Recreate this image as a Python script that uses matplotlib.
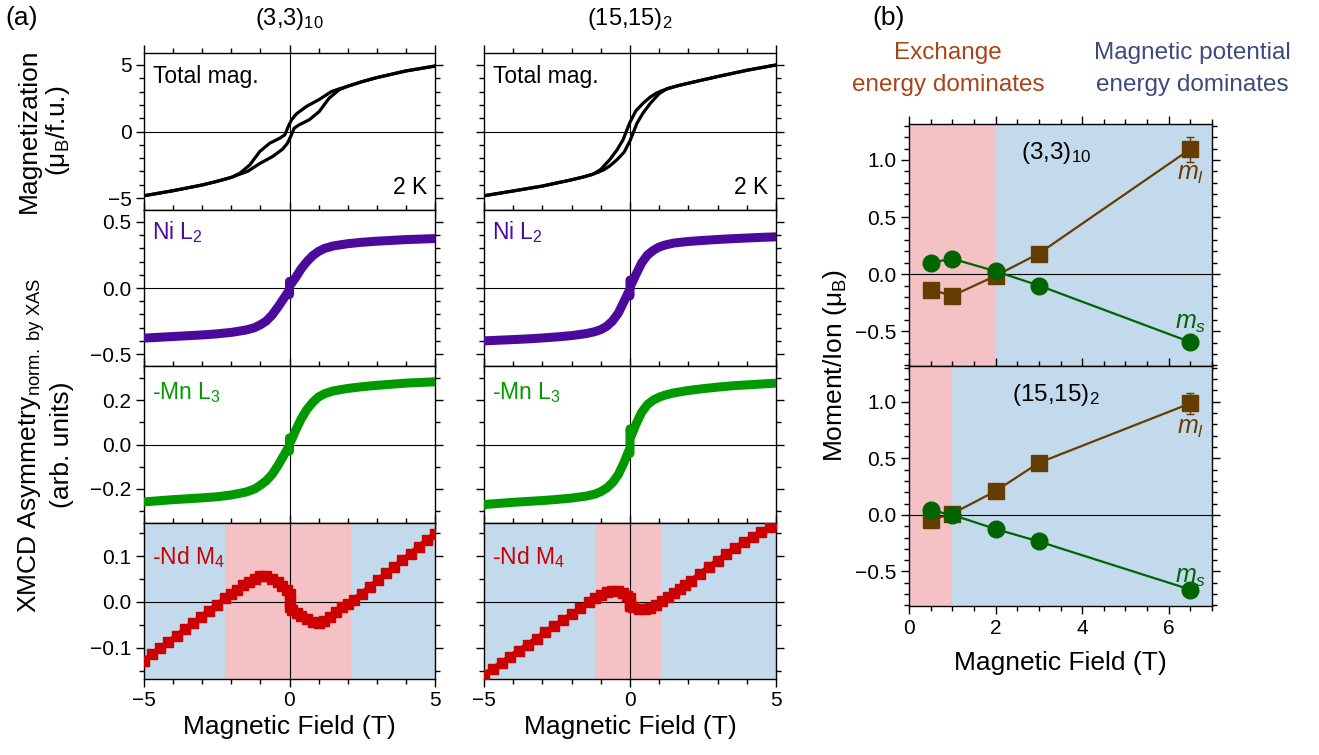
import matplotlib
matplotlib.use("Agg")
import matplotlib.pyplot as plt
from matplotlib.ticker import MultipleLocator

plt.rcParams["font.family"] = ["Liberation Sans", "DejaVu Sans"]
plt.rcParams["mathtext.fontset"] = "custom"
plt.rcParams["mathtext.rm"] = "Liberation Sans"
plt.rcParams["mathtext.it"] = "Liberation Sans:italic"
plt.rcParams["mathtext.bf"] = "Liberation Sans:bold"

# ------------------------------------------------------------------ data
sample_titles = ["(3,3)$_{10}$", "(15,15)$_2$"]

# Total magnetization (muB/f.u.) at 2 K, sweep up / sweep down branches
mag1_inc_x = [-5, -4, -3, -2.5, -2.0, -1.7, -1.44, -1.04, -0.58, -0.24, -0.07, 0.05, 0.16, 0.33, 0.68,
              1.02, 1.36, 1.7, 2.0, 2.5, 3.0, 4.0, 5.0]
mag1_inc_y = [-4.83, -4.45, -4.02, -3.75, -3.45, -3.2, -3.0, -2.43, -1.88, -1.33, -0.88, -0.33, 0.25, 0.5,
              0.88, 1.5, 2.5, 3.13, 3.4, 3.75, 4.05, 4.55, 4.92]
mag1_dec_x = [-5, -4, -3, -2.5, -2.0, -1.7, -1.36, -1.02, -0.68, -0.33, -0.16, -0.05, 0.07, 0.24, 0.58,
              1.04, 1.44, 1.7, 2.0, 2.5, 3.0, 4.0, 5.0]
mag1_dec_y = [-4.83, -4.45, -4.02, -3.75, -3.45, -3.13, -2.5, -1.5, -0.88, -0.5, -0.25, 0.33, 0.88, 1.33,
              1.88, 2.43, 3.0, 3.2, 3.4, 3.75, 4.05, 4.55, 4.92]

mag2_inc_x = [-5, -4, -3, -2, -1.6, -1.3, -1.1, -0.9, -0.7, -0.45, -0.2, 0.0, 0.24, 0.45, 0.7, 1.0,
              1.27, 1.6, 2, 3, 4, 5]
mag2_inc_y = [-4.83, -4.47, -4.1, -3.63, -3.42, -3.22, -3.07, -2.88, -2.6, -2.13, -1.55, -0.7, 0.63, 1.4,
              2.13, 2.85, 3.22, 3.42, 3.63, 4.13, 4.6, 5.0]
mag2_dec_x = [-5, -4, -3, -2, -1.6, -1.27, -1.0, -0.7, -0.45, -0.24, 0.0, 0.2, 0.45, 0.7, 0.9, 1.1,
              1.3, 1.6, 2, 3, 4, 5]
mag2_dec_y = [-4.83, -4.47, -4.1, -3.63, -3.42, -3.22, -2.85, -2.13, -1.4, -0.63, 0.7, 1.55, 2.13, 2.6,
              2.88, 3.07, 3.22, 3.42, 3.63, 4.13, 4.6, 5.0]

# XMCD asymmetry, Ni L2 and -Mn L3
xmcd_field = [-5, -4.5, -4, -3.5, -3, -2.5, -2, -1.5, -1.2, -1.0, -0.8, -0.6, -0.4, -0.2, -0.05, 0, 0,
              0.05, 0.2, 0.4, 0.6, 0.8, 1.0, 1.2, 1.5, 2, 2.5, 3, 3.5, 4, 4.5, 5]
ni1_y = [-0.379, -0.373, -0.367, -0.361, -0.355, -0.347, -0.336, -0.318, -0.3, -0.278, -0.25, -0.205,
         -0.145, -0.08, -0.03, -0.05, 0.05, 0.03, 0.075, 0.145, 0.2, 0.245, 0.277, 0.299, 0.318, 0.335,
         0.346, 0.354, 0.36, 0.366, 0.37, 0.374]
mn1_y = [-0.258, -0.253, -0.248, -0.244, -0.240, -0.235, -0.227, -0.214, -0.200, -0.183, -0.163, -0.135,
         -0.095, -0.05, -0.015, -0.03, 0.03, 0.015, 0.06, 0.115, 0.158, 0.19, 0.214, 0.228, 0.241, 0.252,
         0.260, 0.266, 0.271, 0.276, 0.279, 0.282]
ni2_y = [-0.40, -0.395, -0.39, -0.385, -0.378, -0.37, -0.36, -0.345, -0.33, -0.315, -0.29, -0.25,
         -0.19, -0.1, -0.03, -0.06, 0.06, 0.03, 0.1, 0.19, 0.25, 0.285, 0.31, 0.325, 0.34, 0.352,
         0.36, 0.367, 0.373, 0.378, 0.383, 0.387]
mn2_y = [-0.27, -0.265, -0.26, -0.256, -0.252, -0.247, -0.241, -0.232, -0.223, -0.212, -0.196, -0.172,
         -0.135, -0.08, -0.03, -0.04, 0.07, 0.04, 0.09, 0.145, 0.18, 0.2, 0.213, 0.222, 0.232, 0.243,
         0.251, 0.258, 0.264, 0.268, 0.272, 0.276]

# -Nd M4
nd1_x = [-5.0, -4.72, -4.44, -4.16, -3.88, -3.6, -3.32, -3.04, -2.76, -2.48, -2.2,
         -2.0, -1.8, -1.6, -1.4, -1.2, -1.0, -0.8, -0.6, -0.4, -0.25, -0.1, 0.0, 0.0, 0.0,
         0.1, 0.25, 0.4, 0.6, 0.8, 1.0, 1.2, 1.4, 1.6, 1.8, 2.0,
         2.2, 2.48, 2.76, 3.04, 3.32, 3.6, 3.88, 4.16, 4.44, 4.72, 5.0]
nd1_y = [-0.128, -0.114, -0.101, -0.087, -0.074, -0.060, -0.046, -0.033, -0.019, -0.006, 0.008,
         0.018, 0.027, 0.036, 0.044, 0.051, 0.056, 0.056, 0.051, 0.043, 0.034, 0.025, 0.018, 0.0, -0.012,
         -0.018, -0.024, -0.030, -0.038, -0.044, -0.046, -0.041, -0.032, -0.022, -0.012, -0.004,
         0.004, 0.018, 0.033, 0.047, 0.062, 0.076, 0.091, 0.105, 0.120, 0.134, 0.149]
nd2_x = [-5.0, -4.7, -4.4, -4.1, -3.8, -3.5, -3.2, -2.9, -2.6, -2.3, -2.0, -1.7, -1.4,
         -1.2, -1.0, -0.8, -0.6, -0.4, -0.25, -0.1, 0.0, 0.0, 0.0, 0.1, 0.3, 0.5, 0.7, 0.9,
         1.1, 1.3, 1.5, 1.7, 1.9,
         2.1, 2.4, 2.7, 3.0, 3.3, 3.6, 3.9, 4.2, 4.5, 4.8, 5.0]
nd2_y = [-0.159, -0.146, -0.133, -0.119, -0.106, -0.093, -0.080, -0.066, -0.053, -0.040, -0.027, -0.014, -0.001,
         0.008, 0.015, 0.021, 0.024, 0.024, 0.019, 0.012, 0.008, -0.002, -0.008, -0.011, -0.015, -0.016, -0.013, -0.007,
         0.001, 0.010, 0.019, 0.028, 0.037,
         0.046, 0.061, 0.076, 0.090, 0.104, 0.118, 0.130, 0.142, 0.153, 0.163, 0.169]
nd1_exchange = [-2.2, 2.1]
nd2_exchange = [-1.2, 1.1]

# (b) moments per ion
b_field = [0.5, 1, 2, 3, 6.5]
ml_33 = [-0.135, -0.19, -0.015, 0.18, 1.095]
ms_33 = [0.10, 0.135, 0.025, -0.10, -0.595]
ml_err_33 = [0, 0, 0, 0, 0.11]
ml_1515 = [-0.045, 0.01, 0.21, 0.46, 0.985]
ms_1515 = [0.04, 0.0, -0.125, -0.235, -0.66]
ml_err_1515 = [0, 0, 0, 0, 0.095]
b_exchange_limit = [2.0, 1.0]

# ------------------------------------------------------------------ style
PINK = "#F4C2C4"
BLUE = "#C3D9EC"
C_NI = "#4B0A9C"
C_MN = "#009A00"
C_ND = "#CC0000"
C_MS = "#006400"
C_ML = "#663D00"
C_EXCH = "#A8441A"
C_MAG = "#3C4A7E"

W, H = 1319, 755
fig = plt.figure(figsize=(W / 100, H / 100), dpi=100)


def px_axes(x0, x1, y0, y1):
    return fig.add_axes([x0 / W, 1 - y1 / H, (x1 - x0) / W, (y1 - y0) / H])


def style(ax, xmaj, xmin, ymaj, ymin, xl=True, yl=True):
    ax.xaxis.set_major_locator(MultipleLocator(xmaj))
    ax.xaxis.set_minor_locator(MultipleLocator(xmin))
    ax.yaxis.set_major_locator(MultipleLocator(ymaj))
    ax.yaxis.set_minor_locator(MultipleLocator(ymin))
    ax.tick_params(which="both", direction="out", top=True, right=True, labelsize=15, width=1,
                   labelbottom=xl, labelleft=yl)
    ax.tick_params(which="major", length=6, pad=3)
    ax.tick_params(which="minor", length=3.5)
    for s in ax.spines.values():
        s.set_linewidth(1)


col_x = [(144, 435), (484, 776)]
row_y = [(53, 210), (210, 366), (366, 523), (523, 679)]
ylims = [(-5.9, 5.9), (-0.59, 0.59), (-0.353, 0.353), (-0.168, 0.172)]
yticks = [(5, 1), (0.5, 0.1), (0.2, 0.1), (0.1, 0.05)]

mag_data = [(mag1_inc_x, mag1_inc_y, mag1_dec_x, mag1_dec_y),
            (mag2_inc_x, mag2_inc_y, mag2_dec_x, mag2_dec_y)]
ni_data = [ni1_y, ni2_y]
mn_data = [mn1_y, mn2_y]
nd_data = [(nd1_x, nd1_y, nd1_exchange), (nd2_x, nd2_y, nd2_exchange)]

for c in range(2):
    x0, x1 = col_x[c]
    axs = []
    for r in range(4):
        y0, y1 = row_y[r]
        ax = px_axes(x0, x1, y0, y1)
        ax.set_xlim(-5, 5)
        ax.set_ylim(*ylims[r])
        style(ax, 5, 1, yticks[r][0], yticks[r][1], xl=(r == 3), yl=(c == 0))
        ax.axhline(0, color="k", lw=0.8, zorder=2)
        ax.axvline(0, color="k", lw=0.8, zorder=2)
        axs.append(ax)

    # total magnetization
    ix, iy, dx, dy = mag_data[c]
    axs[0].plot(ix, iy, color="k", lw=2.3, zorder=3, solid_joinstyle="round")
    axs[0].plot(dx, dy, color="k", lw=2.3, zorder=3, solid_joinstyle="round")
    axs[0].text(0.031, 0.853, "Total mag.", transform=axs[0].transAxes, fontsize=16.5, va="center", ha="left")
    axs[0].text(0.973, 0.146, "2 K", transform=axs[0].transAxes, fontsize=16.5, va="center", ha="right")
    axs[0].set_title(sample_titles[c], fontsize=17, pad=20)

    # Ni
    axs[1].plot(xmcd_field, ni_data[c], color=C_NI, lw=6.5, solid_joinstyle="round", zorder=3)
    axs[1].text(0.027, 0.86, "Ni L$_2$", transform=axs[1].transAxes, fontsize=16.5, color=C_NI,
                va="center", ha="left")
    # Mn
    axs[2].plot(xmcd_field, mn_data[c], color=C_MN, lw=6.5, solid_joinstyle="round", zorder=3)
    axs[2].text(0.027, 0.834, "-Mn L$_3$", transform=axs[2].transAxes, fontsize=16.5, color=C_MN,
                va="center", ha="left")
    # Nd
    nx, ny, ex = nd_data[c]
    axs[3].axvspan(-5, ex[0], color=BLUE, lw=0, zorder=0)
    axs[3].axvspan(ex[0], ex[1], color=PINK, lw=0, zorder=0)
    axs[3].axvspan(ex[1], 5, color=BLUE, lw=0, zorder=0)
    axs[3].plot(nx, ny, color=C_ND, lw=4, marker="s", ms=6.5, zorder=3)
    axs[3].text(0.027, 0.78, "-Nd M$_4$", transform=axs[3].transAxes, fontsize=16.5, color=C_ND,
                va="center", ha="left")
    axs[3].set_xlabel("Magnetic Field (T)", fontsize=19, labelpad=3)

fig.text(44 / W, 1 - 131 / H, "Magnetization\n(\u03bc$_\\mathrm{B}$/f.u.)", rotation=90, ha="center",
         va="center", multialignment="center", fontsize=19, linespacing=1.15)
fig.text(45 / W, 1 - 445 / H, "XMCD Asymmetry$_\\mathrm{norm.\\ by\\ XAS}$\n(arb. units)", rotation=90,
         ha="center", va="center", multialignment="center", fontsize=19, linespacing=1.15)
fig.text(22 / W, 1 - 18 / H, "(a)", fontsize=19, ha="center", va="center")
fig.text(889 / W, 1 - 18 / H, "(b)", fontsize=19, ha="center", va="center")

# ------------------------------------------------------------------ panel (b)
b_sets = [(ml_33, ml_err_33, ms_33, sample_titles[0], (124, 366), 0.88, -0.43),
          (ml_1515, ml_err_1515, ms_1515, sample_titles[1], (366, 606), 0.77, -0.55)]
for i, (ml, mle, ms, title, (y0, y1), ml_lab, ms_lab) in enumerate(b_sets):
    ax = px_axes(909, 1212, y0, y1)
    ax.set_xlim(0, 7)
    ax.set_ylim(-0.805, 1.315)
    style(ax, 2, 0.5, 0.5, 0.1, xl=(i == 1), yl=True)
    ax.axvspan(0, b_exchange_limit[i], color=PINK, lw=0, zorder=0)
    ax.axvspan(b_exchange_limit[i], 7, color=BLUE, lw=0, zorder=0)
    ax.axhline(0, color="k", lw=0.8, zorder=1)
    ax.errorbar(b_field, ml, yerr=mle, color=C_ML, lw=1.6, marker="s", ms=11, capsize=3,
                elinewidth=1, zorder=3)
    ax.plot(b_field, ms, color=C_MS, lw=1.6, marker="o", ms=12, zorder=4)
    ax.text(3.4, 1.06, title, fontsize=17.5, ha="center", va="center")
    ax.text(6.5, ml_lab, "$m_l$", fontsize=18, color=C_ML, ha="center", va="center")
    ax.text(6.5, ms_lab, "$m_s$", fontsize=18, color=C_MS, ha="center", va="center")
    if i == 1:
        ax.set_xlabel("Magnetic Field (T)", fontsize=19, labelpad=10)

fig.text(835 / W, 1 - 365 / H, "Moment/Ion (\u03bc$_\\mathrm{B}$)", rotation=90, ha="center", va="center",
         fontsize=19)
fig.text(948 / W, 1 - 69 / H, "Exchange\nenergy dominates", color=C_EXCH, fontsize=17.5, ha="center",
         va="center", multialignment="center", linespacing=1.6)
fig.text(1192 / W, 1 - 69 / H, "Magnetic potential\nenergy dominates", color=C_MAG, fontsize=17.5,
         ha="center", va="center", multialignment="center", linespacing=1.6)

fig.savefig("out.png", dpi=100)
